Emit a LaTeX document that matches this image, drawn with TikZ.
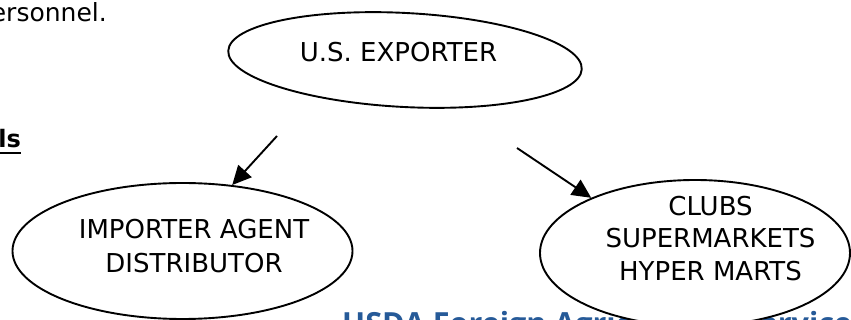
\documentclass[tikz,border=0pt]{standalone}
\usepackage{fontspec}
\setmainfont{DejaVu Sans}
\newfontfamily\fasfont{Open Sans}
\usetikzlibrary{shapes.geometric,arrows.meta}
\definecolor{fasblue}{RGB}{38,90,152}
\tikzset{
  oval/.style={ellipse, draw=black, line width=1.9pt, fill=white, inner sep=0pt},
  ovaltext/.style={align=center, inner sep=0pt},
  flow/.style={line width=1.9pt, -{Triangle[length=19pt,width=18pt]}},
  pagetext/.style={anchor=base east, inner sep=0pt},
}
\begin{document}
\begin{tikzpicture}[x=1pt,y=-1pt]
\useasboundingbox (0,0) rectangle (851,320);
\clip (0,0) rectangle (851,320);
% page text around the diagram
\node[pagetext, font=\fontsize{25}{30}\selectfont] (pers) at (107,22) {ersonnel.};
\node[pagetext, font=\fontsize{24}{28}\selectfont\bfseries] (ls) at (21,148) {ls};
\draw[line width=1.8pt] (0,153) -- (21,153);
\node[anchor=base west, inner sep=0pt, text=fasblue,
      font=\fasfont\bfseries\fontsize{30.5}{34}\selectfont] (fas) at (342,334)
      {USDA Foreign Agricultural Service};
% ellipses
\node[oval, minimum width=354pt, minimum height=94pt, rotate=-3] (exp) at (405,60) {};
\node[oval, minimum width=340pt, minimum height=136pt] (imp) at (182.5,251) {};
\node[oval, minimum width=310pt, minimum height=146pt] (clubs) at (695,253) {};
% texts
\node[ovaltext, font=\fontsize{26}{33}\selectfont] (exp-t) at (398.5,52) {U.S. EXPORTER};
\node[ovaltext, font=\fontsize{26}{34}\selectfont] (imp-t) at (194,246) {IMPORTER AGENT\\DISTRIBUTOR};
\node[ovaltext, font=\fontsize{26}{32.5}\selectfont] (clubs-t) at (710.5,238.5) {CLUBS\\SUPERMARKETS\\HYPER MARTS};
% arrows
\coordinate (a1s) at (277,136);
\coordinate (a2s) at (517,148);
\draw[flow] (a1s) -- (imp.53.5);
\draw[flow] (a2s) -- (clubs.152);
\end{tikzpicture}
\end{document}
